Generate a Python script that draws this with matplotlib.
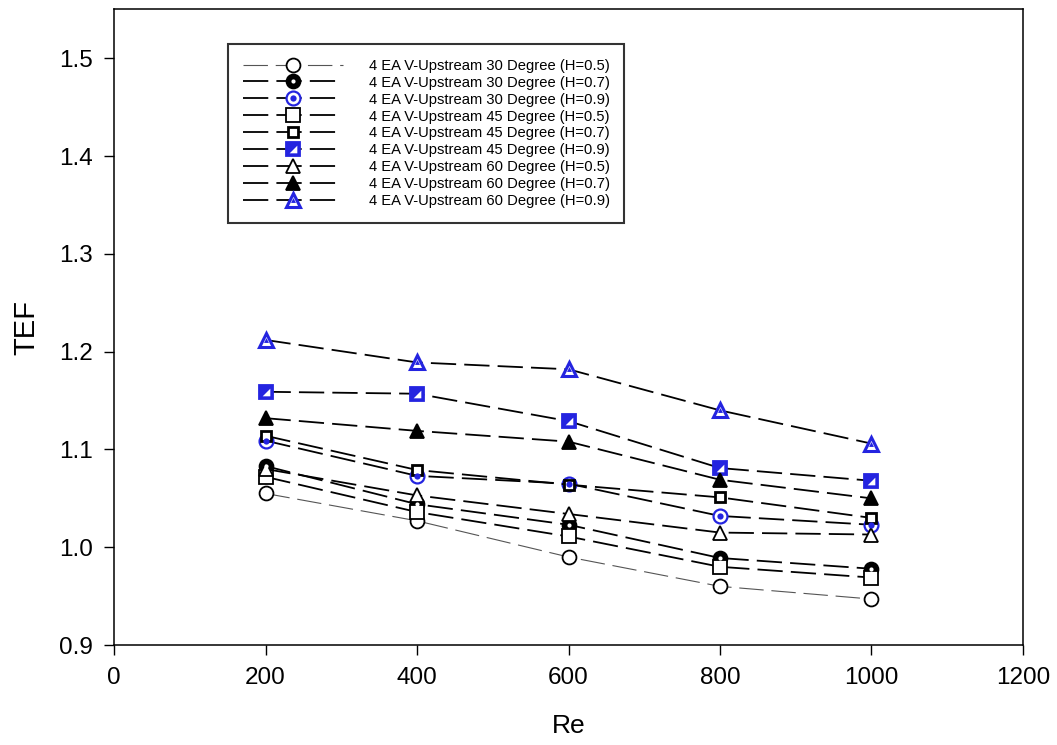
import matplotlib
matplotlib.use("Agg")
import matplotlib.pyplot as plt
from matplotlib.legend_handler import HandlerTuple

plt.rcParams["font.family"] = ["Liberation Sans", "DejaVu Sans"]

# TEF vs Re for the 4 EA V-Upstream baffle cases
re = [200, 400, 600, 800, 1000]
tef_30_h05 = [1.055, 1.027, 0.990, 0.960, 0.947]
tef_30_h07 = [1.083, 1.044, 1.023, 0.989, 0.978]
tef_30_h09 = [1.109, 1.073, 1.065, 1.032, 1.023]
tef_45_h05 = [1.072, 1.036, 1.011, 0.980, 0.969]
tef_45_h07 = [1.114, 1.079, 1.064, 1.051, 1.030]
tef_45_h09 = [1.159, 1.157, 1.129, 1.081, 1.068]
tef_60_h05 = [1.080, 1.053, 1.034, 1.015, 1.013]
tef_60_h07 = [1.132, 1.119, 1.108, 1.069, 1.050]
tef_60_h09 = [1.212, 1.189, 1.182, 1.140, 1.106]

labels = ["4 EA V-Upstream 30 Degree (H=0.5)",
          "4 EA V-Upstream 30 Degree (H=0.7)",
          "4 EA V-Upstream 30 Degree (H=0.9)",
          "4 EA V-Upstream 45 Degree (H=0.5)",
          "4 EA V-Upstream 45 Degree (H=0.7)",
          "4 EA V-Upstream 45 Degree (H=0.9)",
          "4 EA V-Upstream 60 Degree (H=0.5)",
          "4 EA V-Upstream 60 Degree (H=0.7)",
          "4 EA V-Upstream 60 Degree (H=0.9)"]

blue = "#2424e0"
dash = (0, (14, 4.5))

fig = plt.figure(figsize=(10.57, 7.45), dpi=100)
ax = fig.add_axes([0.1079, 0.1342, 0.8599, 0.8531])

def series(y, marker, ms, mfc, mec, mew=1.3, lw=1.3, color="black", ls=dash, z=3):
    line, = ax.plot(re, y, color=color, lw=lw, ls=ls, marker=marker, ms=ms,
                    mfc=mfc, mec=mec, mew=mew, zorder=z)
    return line

def overlay(y, marker, ms, mfc, mec, mew=0.0, z=4):
    dot, = ax.plot(re, y, ls="none", marker=marker, ms=ms, mfc=mfc, mec=mec,
                   mew=mew, zorder=z)
    return dot

handles = []
# 30 degree
handles.append(series(tef_30_h05, "o", 10, "white", "black", lw=0.8, color="#555555",
                      ls=(0, (22, 7))))
h = series(tef_30_h07, "o", 10, "black", "black")
handles.append((h, overlay(tef_30_h07, "o", 3, "white", "white")))
h = series(tef_30_h09, "o", 10, "white", blue, mew=1.6)
handles.append((h, overlay(tef_30_h09, "o", 4.5, blue, blue)))
# 45 degree
handles.append(series(tef_45_h05, "s", 9.5, "white", "black"))
handles.append(series(tef_45_h07, "s", 6.5, "white", "black", mew=2.0))
h = series(tef_45_h09, "s", 9.5, blue, blue)
handles.append((h, overlay(tef_45_h09, [(1, -1), (1, 1), (-1, -1)], 5.5, "white", "white")))
# 60 degree
handles.append(series(tef_60_h05, "^", 10.5, "white", "black"))
handles.append(series(tef_60_h07, "^", 10.5, "black", "black"))
h = series(tef_60_h09, "^", 10.5, "white", blue, mew=2.2)
handles.append((h, overlay(tef_60_h09, "^", 3.5, blue, blue)))

ax.set_xlim(0, 1200)
ax.set_ylim(0.9, 1.55)
ax.set_xticks([0, 200, 400, 600, 800, 1000, 1200])
ax.set_yticks([0.9, 1.0, 1.1, 1.2, 1.3, 1.4, 1.5])
ax.yaxis.set_major_formatter(matplotlib.ticker.FormatStrFormatter("%.1f"))
ax.tick_params(direction="out", length=7, width=1.0, labelsize=17.5)
ax.tick_params(axis="x", pad=9)
ax.tick_params(axis="y", pad=8)
for s in ax.spines.values():
    s.set_linewidth(1.1)

ax.set_xlabel("Re", fontsize=19, labelpad=18)
ax.set_ylabel("TEF", fontsize=21, labelpad=14)

leg = ax.legend(handles, labels, loc="upper left", bbox_to_anchor=(0.1254, 0.9457),
                borderaxespad=0, fontsize=10.6, labelspacing=0.2, handlelength=6.8,
                handletextpad=1.75, borderpad=1.0, frameon=True, fancybox=False,
                handler_map={tuple: HandlerTuple(ndivide=1, pad=0)})
leg.get_frame().set_edgecolor("black")
leg.get_frame().set_linewidth(1.5)

fig.savefig("out.png", dpi=100)
